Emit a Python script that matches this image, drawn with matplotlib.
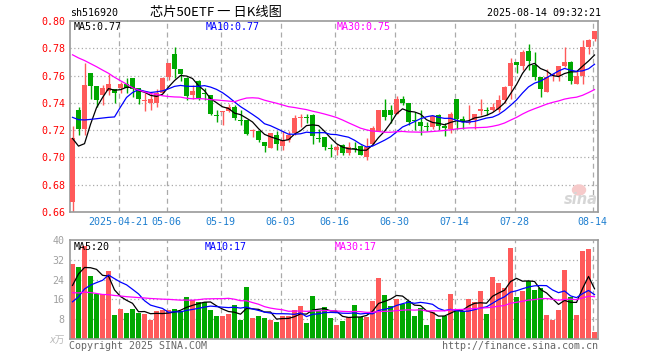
import numpy as np
import pandas as pd
import matplotlib
matplotlib.use('Agg')
import matplotlib.pyplot as plt
from matplotlib.patches import Ellipse

W, H = 660, 360

# closes / volumes of the days before the first visible candle (only feed the MAs)
pre_close = [0.79, 0.81, 0.82, 0.81, 0.825, 0.825, 0.835, 0.83, 0.825, 0.83,
             0.795, 0.78, 0.778, 0.77, 0.785, 0.785, 0.775, 0.765, 0.77, 0.76,
             0.738, 0.755, 0.748, 0.737, 0.746, 0.749, 0.744, 0.681, 0.681]
pre_vol = [32, 28, 31, 29, 30, 30, 20, 18, 19, 17.5, 16, 15, 14, 15, 16, 14,
           17, 16, 17, 16.5, 9, 6, 10, 8, 9, 6, 24.6, 26, 21.5]

opens = [0.667, 0.735, 0.721, 0.762, 0.752, 0.746, 0.749, 0.750, 0.751, 0.754,
         0.758, 0.751, 0.741, 0.740, 0.740, 0.747, 0.759, 0.776, 0.765, 0.758,
         0.746, 0.756, 0.747, 0.746, 0.731, 0.733, 0.734, 0.737, 0.727, 0.727,
         0.719, 0.7195, 0.711, 0.7065, 0.716, 0.708, 0.713, 0.7175, 0.729, 0.729,
         0.731, 0.714, 0.715, 0.707, 0.705, 0.709, 0.703, 0.707, 0.708, 0.700,
         0.710, 0.719, 0.735, 0.735, 0.732, 0.7425, 0.740, 0.7276, 0.726, 0.723,
         0.722, 0.731, 0.723, 0.721, 0.743, 0.728, 0.725, 0.727, 0.734, 0.735,
         0.735, 0.735, 0.742, 0.752, 0.770, 0.767, 0.778, 0.768, 0.759, 0.748,
         0.7604, 0.760, 0.767, 0.770, 0.754, 0.760, 0.781, 0.787]
highs = [0.723, 0.737, 0.769, 0.762, 0.752, 0.753, 0.761, 0.750, 0.755, 0.758,
         0.758, 0.751, 0.747, 0.747, 0.750, 0.759, 0.769, 0.781, 0.765, 0.759,
         0.753, 0.757, 0.751, 0.746, 0.735, 0.734, 0.739, 0.738, 0.735, 0.727,
         0.721, 0.7195, 0.7114, 0.718, 0.719, 0.719, 0.7195, 0.731, 0.732, 0.732,
         0.732, 0.7205, 0.715, 0.710, 0.710, 0.710, 0.711, 0.711, 0.709, 0.714,
         0.723, 0.735, 0.7425, 0.738, 0.745, 0.745, 0.740, 0.733, 0.735, 0.726,
         0.731, 0.732, 0.725, 0.733, 0.743, 0.730, 0.738, 0.732, 0.7425, 0.737,
         0.740, 0.746, 0.752, 0.773, 0.770, 0.779, 0.783, 0.777, 0.759, 0.765,
         0.7614, 0.767, 0.781, 0.771, 0.764, 0.786, 0.787, 0.7923]
lows = [0.660, 0.716, 0.716, 0.743, 0.737, 0.738, 0.746, 0.740, 0.747, 0.747,
        0.7445, 0.739, 0.734, 0.735, 0.737, 0.747, 0.757, 0.758, 0.756, 0.742,
        0.743, 0.742, 0.742, 0.731, 0.726, 0.7236, 0.733, 0.727, 0.724, 0.716,
        0.715, 0.7114, 0.704, 0.7065, 0.705, 0.705, 0.7114, 0.716, 0.7224, 0.7254,
        0.710, 0.7114, 0.705, 0.700, 0.7016, 0.7016, 0.7016, 0.704, 0.7016, 0.698,
        0.710, 0.719, 0.727, 0.725, 0.732, 0.738, 0.724, 0.720, 0.716, 0.719,
        0.721, 0.720, 0.7156, 0.7175, 0.721, 0.721, 0.7244, 0.721, 0.731, 0.731,
        0.734, 0.7335, 0.7396, 0.7425, 0.7616, 0.764, 0.764, 0.757, 0.7445, 0.748,
        0.7558, 0.756, 0.7665, 0.754, 0.7535, 0.754, 0.776, 0.7856]
closes = [0.714, 0.721, 0.753, 0.752, 0.742, 0.751, 0.754, 0.747, 0.754, 0.751,
          0.750, 0.7425, 0.7413, 0.7425, 0.747, 0.758, 0.769, 0.765, 0.761, 0.745,
          0.749, 0.743, 0.7462, 0.732, 0.730, 0.734, 0.737, 0.729, 0.7265, 0.717,
          0.720, 0.7126, 0.708, 0.7175, 0.7097, 0.713, 0.7163, 0.7286, 0.7298, 0.7286,
          0.7156, 0.7136, 0.7077, 0.7058, 0.7072, 0.7033, 0.7072, 0.7063, 0.7016, 0.7077,
          0.7217, 0.735, 0.7293, 0.731, 0.7425, 0.740, 0.726, 0.7268, 0.723, 0.722,
          0.730, 0.723, 0.7212, 0.7317, 0.728, 0.7268, 0.7261, 0.7317, 0.7352, 0.7342,
          0.7366, 0.742, 0.7513, 0.769, 0.768, 0.7776, 0.771, 0.759, 0.750, 0.7592,
          0.7609, 0.767, 0.7702, 0.756, 0.7597, 0.7812, 0.7861, 0.7923]
volumes = [30.2, 29.2, 37.6, 25.5, 18.2, 18.2, 27.6, 9.7, 12.1, 10.6,
           12.1, 10.6, 10.1, 7.7, 11.3, 11.7, 11.7, 12.1, 11.3, 17.1,
           15.8, 15.1, 15.1, 11.7, 9.3, 9.3, 10.1, 13.7, 7.7, 21.1,
           8.3, 9.1, 8.3, 7.8, 6.7, 9.4, 9.4, 11.8, 13.4, 6.3,
           17.5, 11.2, 13.1, 8.6, 5.8, 7.1, 8.9, 13.8, 8.9, 8.8,
           15.5, 24.8, 17.9, 13.5, 16.3, 14.2, 15.3, 9.1, 12.7, 5.6,
           10.8, 8.0, 9.4, 18.3, 11.2, 11.2, 16.3, 15.0, 19.5, 10.3,
           25.2, 22.8, 20.8, 36.9, 16.8, 19.5, 23.4, 19.6, 20.8, 9.8,
           7.8, 11.8, 27.7, 17.1, 9.5, 35.7, 36.4, 2.7]

tick_pos = [8, 16, 25, 35, 44, 54, 64, 74, 87]
tick_labels = ['2025-04-21', '05-06', '05-19', '06-03', '06-16',
               '06-30', '07-14', '07-28', '08-14']
price_ticks = [0.66, 0.68, 0.70, 0.72, 0.74, 0.76, 0.78, 0.80]
vol_ticks = [8, 16, 24, 32, 40]

RED = '#FF5A5A'
GREEN = '#00A800'
GRID = '#AAAAAA'
MONO = 'DejaVu Sans Mono'
FS = 7.2


def ma(pre, vals, n):
    s = pd.Series(list(pre) + list(vals)).rolling(n).mean().to_numpy()
    return s[len(pre):]


def px_axes(fig, x0, y0, x1, y1):
    return fig.add_axes([x0 / W, 1 - y1 / H, (x1 - x0) / W, (y1 - y0) / H])


def ftext(fig, x, y, s, **kw):
    fig.text(x / W, 1 - y / H, s, **kw)


o = np.array(opens)
c = np.array(closes)
hi = np.array(highs)
lo = np.array(lows)
v = np.array(volumes)
x = np.arange(len(c))
up = c >= o
cols = np.where(up, RED, GREEN)

fig = plt.figure(figsize=(W / 100, H / 100), dpi=100)
fig.patch.set_facecolor('white')

ax = px_axes(fig, 70, 21, 598, 211.8)
axv = px_axes(fig, 70, 240, 598, 339)

for a in (ax, axv):
    a.set_xlim(-0.42, 87.58)
    for s in a.spines.values():
        s.set_color('#9A9A9A')
        s.set_linewidth(1.2)
    for p in tick_pos:
        a.axvline(p - 0.33, color=GRID, lw=0.9, ls=(0, (4, 3)), zorder=0)

# price panel
ax.set_ylim(0.66, 0.80)
for t in price_ticks[1:-1]:
    ax.axhline(t, color=GRID, lw=0.9, ls=(0, (1, 2)), zorder=0)
ax.vlines(x, lo, hi, colors=cols, lw=1.0, zorder=2)
body = np.maximum(np.abs(c - o), 0.0008)
ax.bar(x, body, bottom=np.minimum(o, c), width=0.83, color=cols, lw=0, zorder=3)
ax.plot(x, ma(pre_close, closes, 5), color='black', lw=0.9, zorder=4)
ax.plot(x, ma(pre_close, closes, 10), color='#0000FF', lw=0.9, zorder=4)
ax.plot(x, ma(pre_close, closes, 30), color='#FF00FF', lw=0.9, zorder=4)
ax.set_yticks(price_ticks)
ax.set_yticklabels(['%.2f' % t for t in price_ticks], color='#FF0000',
                   family=MONO, fontsize=FS)
ax.set_xticks([p - 0.33 for p in tick_pos])
ax.set_xticklabels(tick_labels, color='#1E7FD0', family=MONO, fontsize=FS)
ax.tick_params(length=0, pad=3)
ax.tick_params(axis='x', pad=4)

# volume panel
axv.set_ylim(0, 40)
for t in vol_ticks[:-1]:
    axv.axhline(t, color=GRID, lw=0.9, ls=(0, (1, 2)), zorder=0)
axv.bar(x, v, width=0.83, color=cols, lw=0, zorder=2)
axv.plot(x, ma(pre_vol, volumes, 5), color='black', lw=0.9, zorder=4)
axv.plot(x, ma(pre_vol, volumes, 10), color='#0000FF', lw=0.9, zorder=4)
axv.plot(x, ma(pre_vol, volumes, 30), color='#FF00FF', lw=0.9, zorder=4)
axv.set_yticks(vol_ticks)
axv.set_yticklabels([str(t) for t in vol_ticks], color='#A0A0A0',
                    family=MONO, fontsize=FS)
axv.set_xticks([])
axv.tick_params(length=0, pad=4)

# header texts
ftext(fig, 70, 13, 'sh516920', family=MONO, fontsize=FS, va='center')
ftext(fig, 150, 12, '芯片50ETF 一 日K线图', family=['Noto Sans CJK SC'],
      fontsize=9.5, va='center')
ftext(fig, 601, 13, '2025-08-14 09:32:21', family=MONO, fontsize=FS,
      va='center', ha='right')

ftext(fig, 74, 27, 'MA5:0.77', family=MONO, fontsize=FS, va='center', color='black')
ftext(fig, 206, 27, 'MA10:0.77', family=MONO, fontsize=FS, va='center', color='#0000FF')
ftext(fig, 337, 27, 'MA30:0.75', family=MONO, fontsize=FS, va='center', color='#FF00FF')

ftext(fig, 74, 246.5, 'MA5:20', family=MONO, fontsize=FS, va='center', color='black')
ftext(fig, 205, 246.5, 'MA10:17', family=MONO, fontsize=FS, va='center', color='#0000FF')
ftext(fig, 335, 246.5, 'MA30:17', family=MONO, fontsize=FS, va='center', color='#FF00FF')

ftext(fig, 49, 340, 'x万', family=['DejaVu Sans', 'Noto Sans CJK SC'],
      fontsize=7, style='italic', color='#BBBBBB', va='center')
ftext(fig, 69, 346, 'Copyright 2025 SINA.COM', family=MONO, fontsize=FS,
      color='#666666', va='center')
ftext(fig, 598, 346, 'http://finance.sina.com.cn', family=MONO, fontsize=FS,
      color='#666666', va='center', ha='right')

# sina watermark
fig.patches.append(Ellipse((579 / W, 1 - 190 / H), 13 / W, 10 / H,
                           transform=fig.transFigure, color='#F6CACA', zorder=5))
ftext(fig, 581, 200, 'sina', fontsize=10.5, weight='bold', style='italic',
      color='#D6D6D6', ha='center', va='center', zorder=6)

fig.savefig('out.png', dpi=100)
